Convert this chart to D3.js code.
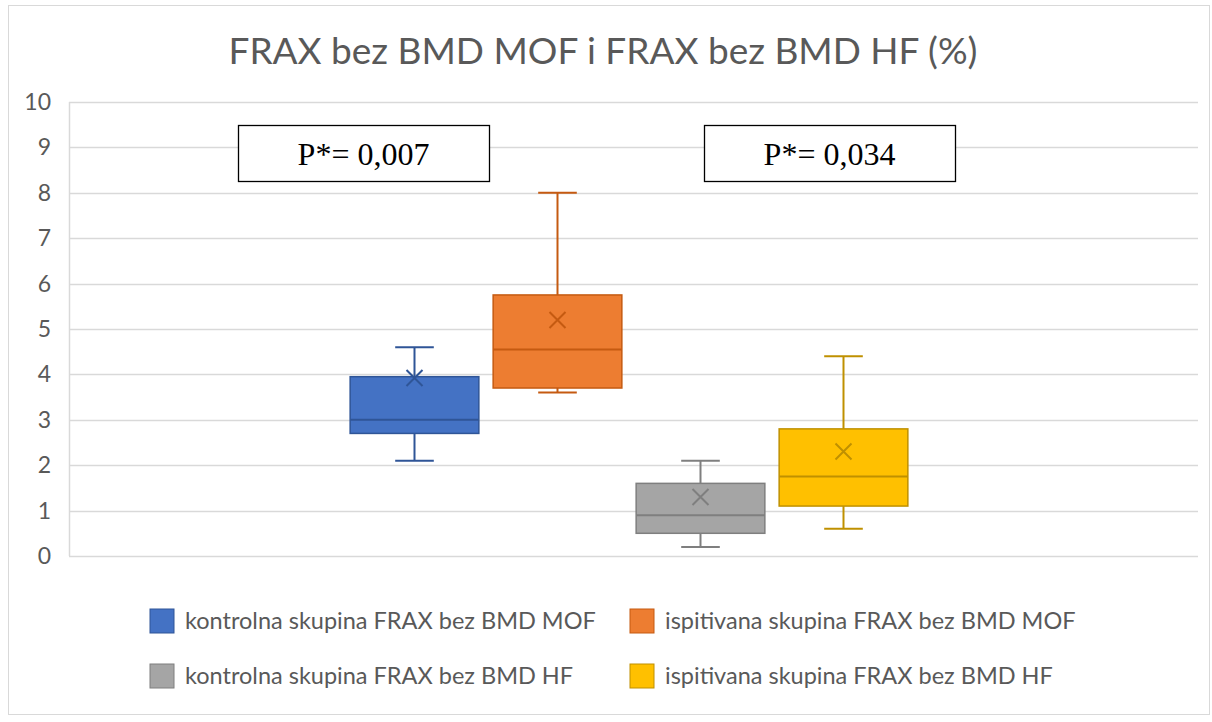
<!DOCTYPE html>
<html>
<head>
<meta charset="utf-8">
<script src="https://cdn.jsdelivr.net/npm/d3@7"></script>
<style>
  body { margin: 0; background: #fff; }
  svg text { font-family: Lato, "Open Sans", sans-serif; }
</style>
</head>
<body>
<script>
// values
const series = [
  "kontrolna skupina FRAX bez BMD MOF",
  "ispitivana skupina FRAX bez BMD MOF",
  "kontrolna skupina FRAX bez BMD HF",
  "ispitivana skupina FRAX bez BMD HF"
];
const whiskerLow  = [2.1, 3.6, 0.2, 0.6];
const q1          = [2.7, 3.7, 0.5, 1.1];
const median      = [3.0, 4.55, 0.9, 1.75];
const q3          = [3.95, 5.75, 1.6, 2.8];
const whiskerHigh = [4.6, 8.0, 2.1, 4.4];
const mean        = [3.92, 5.2, 1.3, 2.3];
const fills   = ["#4472c4", "#ed7d31", "#a5a5a5", "#ffc000"];
const strokes = ["#2f5597", "#c55a11", "#7f7f7f", "#bf9000"];
const yTicks = d3.range(0, 11);
const pLabels = ["P*= 0,007", "P*= 0,034"];
const title = "FRAX bez BMD MOF i FRAX bez BMD HF (%)";

const W = 1212, H = 722;
const plot = { left: 69, right: 1198, top: 102, bottom: 556 };

const svg = d3.select('body').append('svg')
    .attr('width', W).attr('height', H);

// outer chart frame
svg.append('rect')
    .attr('x', 8.5).attr('y', 5.5)
    .attr('width', 1201).attr('height', 709)
    .attr('fill', '#fff').attr('stroke', '#d9d9d9');

const y = d3.scaleLinear().domain([0, 10]).range([plot.bottom, plot.top]);
// boxes sit in the middle of the plot, one band per series
const x = d3.scaleBand().domain(series)
    .range([343, 915])
    .paddingInner(0.1).paddingOuter(0.05);

svg.append('text')
    .attr('x', 603).attr('y', 64)
    .attr('text-anchor', 'middle')
    .attr('font-size', 37)
    .attr('fill', '#595959')
    .text(title);

// gridlines
svg.append('g').selectAll('line').data(yTicks).join('line')
    .attr('x1', plot.left).attr('x2', plot.right)
    .attr('y1', d => Math.round(y(d)) + 0.5).attr('y2', d => Math.round(y(d)) + 0.5)
    .attr('stroke', '#d9d9d9').attr('stroke-width', 1.5);
svg.append('line')
    .attr('x1', plot.left + 0.5).attr('x2', plot.left + 0.5)
    .attr('y1', y(10)).attr('y2', y(0))
    .attr('stroke', '#d9d9d9').attr('stroke-width', 1.5);

svg.append('g').selectAll('text').data(yTicks).join('text')
    .attr('x', 51).attr('y', d => y(d))
    .attr('dy', '0.35em')
    .attr('text-anchor', 'end')
    .attr('font-size', 23)
    .attr('fill', '#595959')
    .text(d => d);

// boxes
const idx = d3.range(series.length);
const g = svg.append('g').selectAll('g').data(idx).join('g');
const bw = x.bandwidth();
const cx = i => x(series[i]) + bw / 2;

g.append('line')
    .attr('x1', i => cx(i)).attr('x2', i => cx(i))
    .attr('y1', i => y(whiskerHigh[i])).attr('y2', i => y(q3[i]))
    .attr('stroke', i => strokes[i]).attr('stroke-width', 2);
g.append('line')
    .attr('x1', i => cx(i)).attr('x2', i => cx(i))
    .attr('y1', i => y(whiskerLow[i])).attr('y2', i => y(q1[i]))
    .attr('stroke', i => strokes[i]).attr('stroke-width', 2);
g.append('line')
    .attr('x1', i => cx(i) - bw * 0.15).attr('x2', i => cx(i) + bw * 0.15)
    .attr('y1', i => y(whiskerHigh[i])).attr('y2', i => y(whiskerHigh[i]))
    .attr('stroke', i => strokes[i]).attr('stroke-width', 2);
g.append('line')
    .attr('x1', i => cx(i) - bw * 0.15).attr('x2', i => cx(i) + bw * 0.15)
    .attr('y1', i => y(whiskerLow[i])).attr('y2', i => y(whiskerLow[i]))
    .attr('stroke', i => strokes[i]).attr('stroke-width', 2);
g.append('rect')
    .attr('x', i => x(series[i])).attr('width', bw)
    .attr('y', i => y(q3[i])).attr('height', i => y(q1[i]) - y(q3[i]))
    .attr('fill', i => fills[i])
    .attr('stroke', i => strokes[i]).attr('stroke-width', 1.5);
g.append('line')
    .attr('x1', i => x(series[i])).attr('x2', i => x(series[i]) + bw)
    .attr('y1', i => y(median[i])).attr('y2', i => y(median[i]))
    .attr('stroke', i => strokes[i]).attr('stroke-width', 2);
// mean marker (x)
const m = 8;
g.append('path')
    .attr('d', i => `M${cx(i) - m},${y(mean[i]) - m}L${cx(i) + m},${y(mean[i]) + m}M${cx(i) - m},${y(mean[i]) + m}L${cx(i) + m},${y(mean[i]) - m}`)
    .attr('stroke', i => strokes[i]).attr('stroke-width', 2).attr('fill', 'none');

// p-value boxes
const pBoxes = [{ x: 238, label: pLabels[0] }, { x: 704, label: pLabels[1] }];
const pb = svg.append('g').selectAll('g').data(pBoxes).join('g');
pb.append('rect')
    .attr('x', d => d.x + 0.5).attr('y', 125.5)
    .attr('width', 251).attr('height', 56)
    .attr('fill', '#fff').attr('stroke', '#000').attr('stroke-width', 1.3);
pb.append('text')
    .attr('x', d => d.x + 125.5).attr('y', 165)
    .attr('text-anchor', 'middle')
    .style('font-family', '"Liberation Serif", "Times New Roman", serif')
    .attr('font-size', 32)
    .attr('fill', '#000')
    .text(d => d.label);

// legend
const legendPos = [[150, 621], [630, 621], [150, 676], [630, 676]];
const lg = svg.append('g').selectAll('g').data(idx).join('g')
    .attr('transform', i => `translate(${legendPos[i][0]},${legendPos[i][1]})`);
lg.append('rect')
    .attr('x', 0).attr('y', -12).attr('width', 24).attr('height', 24)
    .attr('fill', i => fills[i]).attr('stroke', i => strokes[i]).attr('stroke-width', 1);
lg.append('text')
    .attr('x', 35).attr('y', 0).attr('dy', '0.35em')
    .attr('font-size', 23.5)
    .attr('fill', '#595959')
    .text(i => series[i]);
</script>
</body>
</html>
